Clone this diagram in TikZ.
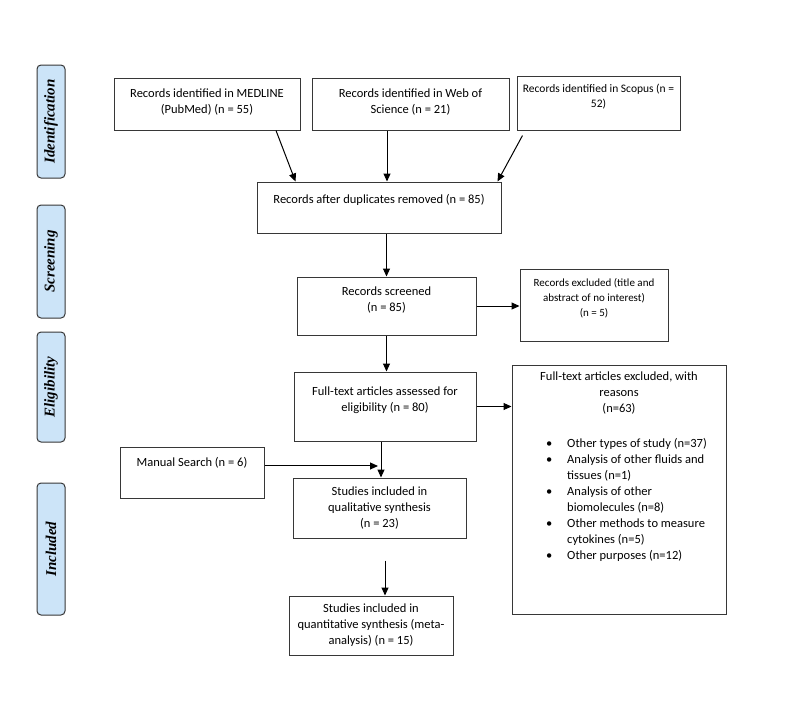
\documentclass[tikz,border=0pt]{standalone}
\usepackage{fontspec}
\setmainfont{Carlito}
\newfontfamily\labfont{Liberation Serif}
\usetikzlibrary{arrows.meta,calc}
\definecolor{lblue}{RGB}{204,228,248}
\definecolor{edge}{RGB}{55,55,55}
\begin{document}
\begin{tikzpicture}[x=1pt,y=-1pt,
  box/.style={draw=edge, line width=1pt, inner sep=0pt, align=center, font=\fontsize{12.5}{16}\selectfont},
  side/.style={draw=edge, line width=1pt, rounded corners=4pt, fill=lblue, rotate=90, inner sep=0pt,
    minimum height=28pt, font=\labfont\bfseries\itshape\fontsize{15}{16}\selectfont},
  arr/.style={-{Triangle[length=8pt,width=7pt]}, line width=1pt, draw=black},
  ]
\useasboundingbox (0,0) rectangle (786,713);
% side labels
\node[side, minimum width=113pt] (idl) at (51,121.5) {Identification};
\node[side, minimum width=113pt] (scl) at (51,261.5) {Screening};
\node[side, minimum width=110pt] (ell) at (51,387) {Eligibility};
\node[side, minimum width=132pt] (inl) at (51,549) {Included};
% boxes
\node[box, minimum width=186pt, minimum height=52pt] (med) at (207,104) {\parbox[c][52pt][t]{186pt}{\centering\vspace*{11pt}Records identified in MEDLINE\\(PubMed) (n = 55)}};
\node[box, minimum width=197pt, minimum height=52pt] (wos) at (410.5,104) {\parbox[c][52pt][t]{197pt}{\centering\vspace*{11pt}Records identified in Web of\\Science (n = 21)}};
\node[box, minimum width=163pt, minimum height=54pt] (sco) at (598.5,103) {\parbox[c][54pt][t]{163pt}{\centering\fontsize{11.5}{15}\selectfont\vspace*{8pt}Records identified in Scopus (n =\\52)}};
\node[box, minimum width=244pt, minimum height=51pt] (dup) at (379,207.5) {\parbox[c][51pt][t]{244pt}{\centering\vspace*{12pt}Records after duplicates removed (n = 85)}};
\node[box, minimum width=179pt, minimum height=58pt] (scr) at (386.5,306) {\parbox[c][58pt][t]{179pt}{\centering\vspace*{10pt}Records screened\\(n = 85)}};
\node[box, minimum width=148pt, minimum height=72pt] (exc1) at (594,305) {\parbox[c][72pt][t]{148pt}{\centering\fontsize{11}{15}\selectfont\vspace*{9pt}Records excluded (title and\\abstract of no interest)\\(n = 5)}};
\node[box, minimum width=182pt, minimum height=69pt] (ft) at (385,406.5) {\parbox[c][69pt][t]{182pt}{\centering\vspace*{15pt}Full-text articles assessed for\\eligibility (n = 80)}};
\node[box, minimum width=214pt, minimum height=249pt] (exc2) at (619,489.5) {\parbox[c][249pt][t]{214pt}{\vspace*{7pt}\centering Full-text articles excluded, with\\reasons\\(n=63)\par\vspace{21pt}\raggedright\noindent
\begin{tabular}{@{\hspace{34pt}}c@{\hspace{15pt}}l@{}}
\textbullet & Other types of study (n=37)\\
\textbullet & Analysis of other fluids and\\
 & tissues (n=1)\\
\textbullet & Analysis of other\\
 & biomolecules (n=8)\\
\textbullet & Other methods to measure\\
 & cytokines (n=5)\\
\textbullet & Other purposes (n=12)
\end{tabular}}};
\node[box, minimum width=144pt, minimum height=51pt] (man) at (192,472.5) {\parbox[c][51pt][t]{144pt}{\centering\vspace*{10pt}Manual Search (n = 6)}};
\node[box, minimum width=173pt, minimum height=60pt] (qual) at (379.5,508) {Studies included in\\qualitative synthesis\\(n = 23)};
\node[box, minimum width=164pt, minimum height=59pt] (quan) at (371,625.5) {Studies included in\\quantitative synthesis (meta-\\analysis) (n = 15)};
% connectors
\draw[arr] ([xshift=69pt]med.south) -- ([xshift=39pt]dup.north west);
\draw[arr] ([xshift=-23.5pt]wos.south) -- ([xshift=-23.5pt]wos.south |- dup.north);
\draw[arr] ([shift={(6,5)}]sco.south west) -- ([xshift=-4pt]dup.north east);
\draw[arr] (scr.north |- dup.south) -- (scr.north);
\draw[arr] (scr.east) -- (scr.east -| exc1.west);
\draw[arr] (scr.south) -- (scr.south |- ft.north);
\draw[arr] (ft.east) -- (ft.east -| exc2.west);
\draw[arr] ([xshift=-4pt]ft.south) -- ([xshift=-4pt]ft.south |- qual.north);
\coordinate (mj) at ($([xshift=-4pt]ft.south)!0.68!([xshift=-4pt]ft.south |- qual.north)$);
\draw[arr] (man.east |- mj) -- ([xshift=-3pt]mj);
\draw[arr] ([shift={(5.5,22)}]qual.south) -- ([xshift=5.5pt]qual.south |- quan.north);
\end{tikzpicture}
\end{document}
